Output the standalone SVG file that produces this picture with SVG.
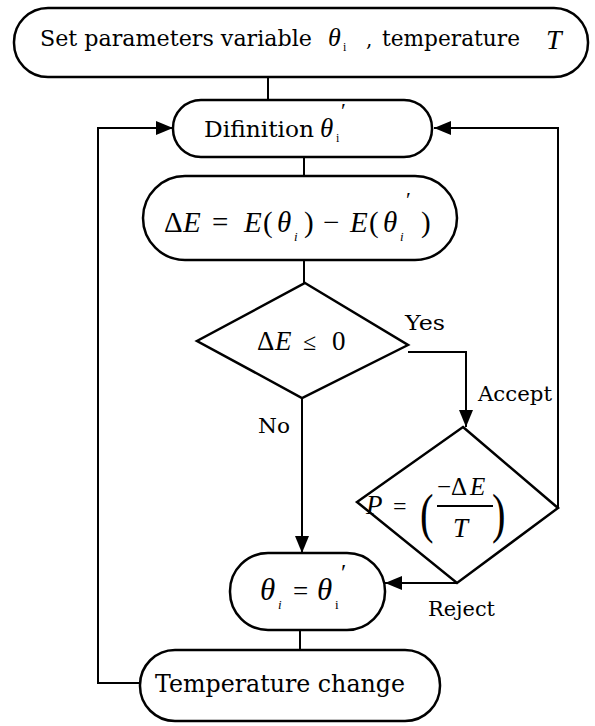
<svg xmlns="http://www.w3.org/2000/svg" width="595" height="726" viewBox="0 0 595 726">
<style>
.box{fill:#fff;stroke:#000;stroke-width:2.5}
.ln{fill:none;stroke:#000;stroke-width:2}
.t{font-family:"DejaVu Serif","Liberation Serif",serif;fill:#000}
.m{font-family:"Liberation Serif","Times New Roman",serif;font-style:italic}
.r{font-family:"Liberation Serif","Times New Roman",serif;font-style:normal}
text{fill:#000}
</style>
<defs>
<marker id="ah" markerUnits="userSpaceOnUse" markerWidth="18" markerHeight="14" refX="17" refY="7" orient="auto">
<path d="M0,0 L17,7 L0,14 Z" fill="#000"/>
</marker>
</defs>
<rect width="595" height="726" fill="#fff"/>
<g id="connectors">
<path class="ln" d="M268,77 V100"/>
<path class="ln" d="M304,157 V176"/>
<path class="ln" d="M304,260 V283"/>
<path class="ln" d="M302,398 V553" marker-end="url(#ah)"/>
<path class="ln" d="M408,352 H466 V427" marker-end="url(#ah)"/>
<path class="ln" d="M558,508 V128 H434" marker-end="url(#ah)"/>
<path class="ln" d="M457,583 H385" marker-end="url(#ah)"/>
<path class="ln" d="M300,630 V650"/>
<path class="ln" d="M140,683 H98 V128 H173" marker-end="url(#ah)"/>
</g>
<g id="n-set">
<rect class="box" x="14" y="8" width="574" height="69" rx="34" ry="34"/>
<text y="46"><tspan class="t" x="40" font-size="22" textLength="272" lengthAdjust="spacingAndGlyphs">Set parameters variable</tspan><tspan class="m" x="328" font-size="26">θ</tspan><tspan class="r" x="343" y="51" font-size="12">i</tspan><tspan class="t" x="366" y="46" font-size="20">,</tspan><tspan class="t" x="382" font-size="22" textLength="138" lengthAdjust="spacingAndGlyphs">temperature</tspan><tspan class="m" x="546" y="49" font-size="28">T</tspan></text>
</g>
<g id="n-def">
<rect class="box" x="173" y="100" width="259" height="57" rx="28" ry="28"/>
<text y="137"><tspan class="t" x="204" font-size="23" textLength="110" lengthAdjust="spacingAndGlyphs">Difinition</tspan><tspan class="m" x="320" font-size="27">θ</tspan><tspan class="r" x="336" y="142" font-size="12">i</tspan><tspan class="r" x="341" y="118" font-size="22">′</tspan></text>
</g>
<g id="n-dE">
<rect class="box" x="143" y="176" width="314" height="84" rx="42" ry="42"/>
<text y="232" font-size="29"><tspan class="r" x="164">Δ</tspan><tspan class="m" x="183">E</tspan><tspan class="r" x="212">=</tspan><tspan class="m" x="244">E</tspan><tspan class="r" x="263">(</tspan><tspan class="m" x="277">θ</tspan><tspan class="m" x="294" y="241" font-size="13">i</tspan><tspan class="r" x="304" y="232">)</tspan><tspan class="r" x="323">−</tspan><tspan class="m" x="350">E</tspan><tspan class="r" x="369">(</tspan><tspan class="m" x="383">θ</tspan><tspan class="m" x="400" y="241" font-size="13">i</tspan><tspan class="r" x="406" y="207" font-size="22">′</tspan><tspan class="r" x="421" y="232">)</tspan></text>
</g>
<g id="n-cond">
<polygon class="box" points="305,283 408,345 302,398 197,341"/>
<text y="350" font-size="27"><tspan class="r" x="257">Δ</tspan><tspan class="m" x="275">E</tspan><tspan class="r" x="303" font-size="24">≤</tspan><tspan class="r" x="332">0</tspan></text>
</g>
<g id="n-prob">
<polygon class="box" points="463,427 558,508 457,583 357,502"/>
<text y="514"><tspan class="m" x="366" font-size="27">P</tspan><tspan class="r" x="393" font-size="24">=</tspan></text>
<text class="r" font-size="54" transform="translate(420,532) scale(0.75,1)">(</text>
<text y="495" font-size="25"><tspan class="r" x="437">−Δ</tspan><tspan class="m" x="470">E</tspan></text>
<line x1="437" y1="506" x2="493" y2="506" stroke="#000" stroke-width="2"/>
<text class="m" x="453" y="537" font-size="27">T</text>
<text class="r" font-size="54" transform="translate(492,532) scale(0.75,1)">)</text>
</g>
<g id="n-assign">
<rect class="box" x="230" y="553" width="155" height="77" rx="38" ry="38"/>
<text y="600"><tspan class="m" x="260" font-size="31">θ</tspan><tspan class="m" x="278" y="609" font-size="13">i</tspan><tspan class="r" x="293" y="600" font-size="27">=</tspan><tspan class="m" x="317" font-size="31">θ</tspan><tspan class="r" x="335" y="609" font-size="13">i</tspan><tspan class="r" x="341" y="580" font-size="24">′</tspan></text>
</g>
<g id="n-temp">
<rect class="box" x="140" y="650" width="300" height="71" rx="35" ry="35"/>
<text class="t" x="155" y="692" font-size="23.5" textLength="250" lengthAdjust="spacingAndGlyphs">Temperature change</text>
</g>
<g id="labels">
<text class="t" x="405" y="330" font-size="21" textLength="40" lengthAdjust="spacingAndGlyphs">Yes</text>
<text class="t" x="478" y="401" font-size="21" textLength="74" lengthAdjust="spacingAndGlyphs">Accept</text>
<text class="t" x="258" y="433" font-size="21" textLength="32" lengthAdjust="spacingAndGlyphs">No</text>
<text class="t" x="428" y="616" font-size="21" textLength="67" lengthAdjust="spacingAndGlyphs">Reject</text>
</g>
</svg>
